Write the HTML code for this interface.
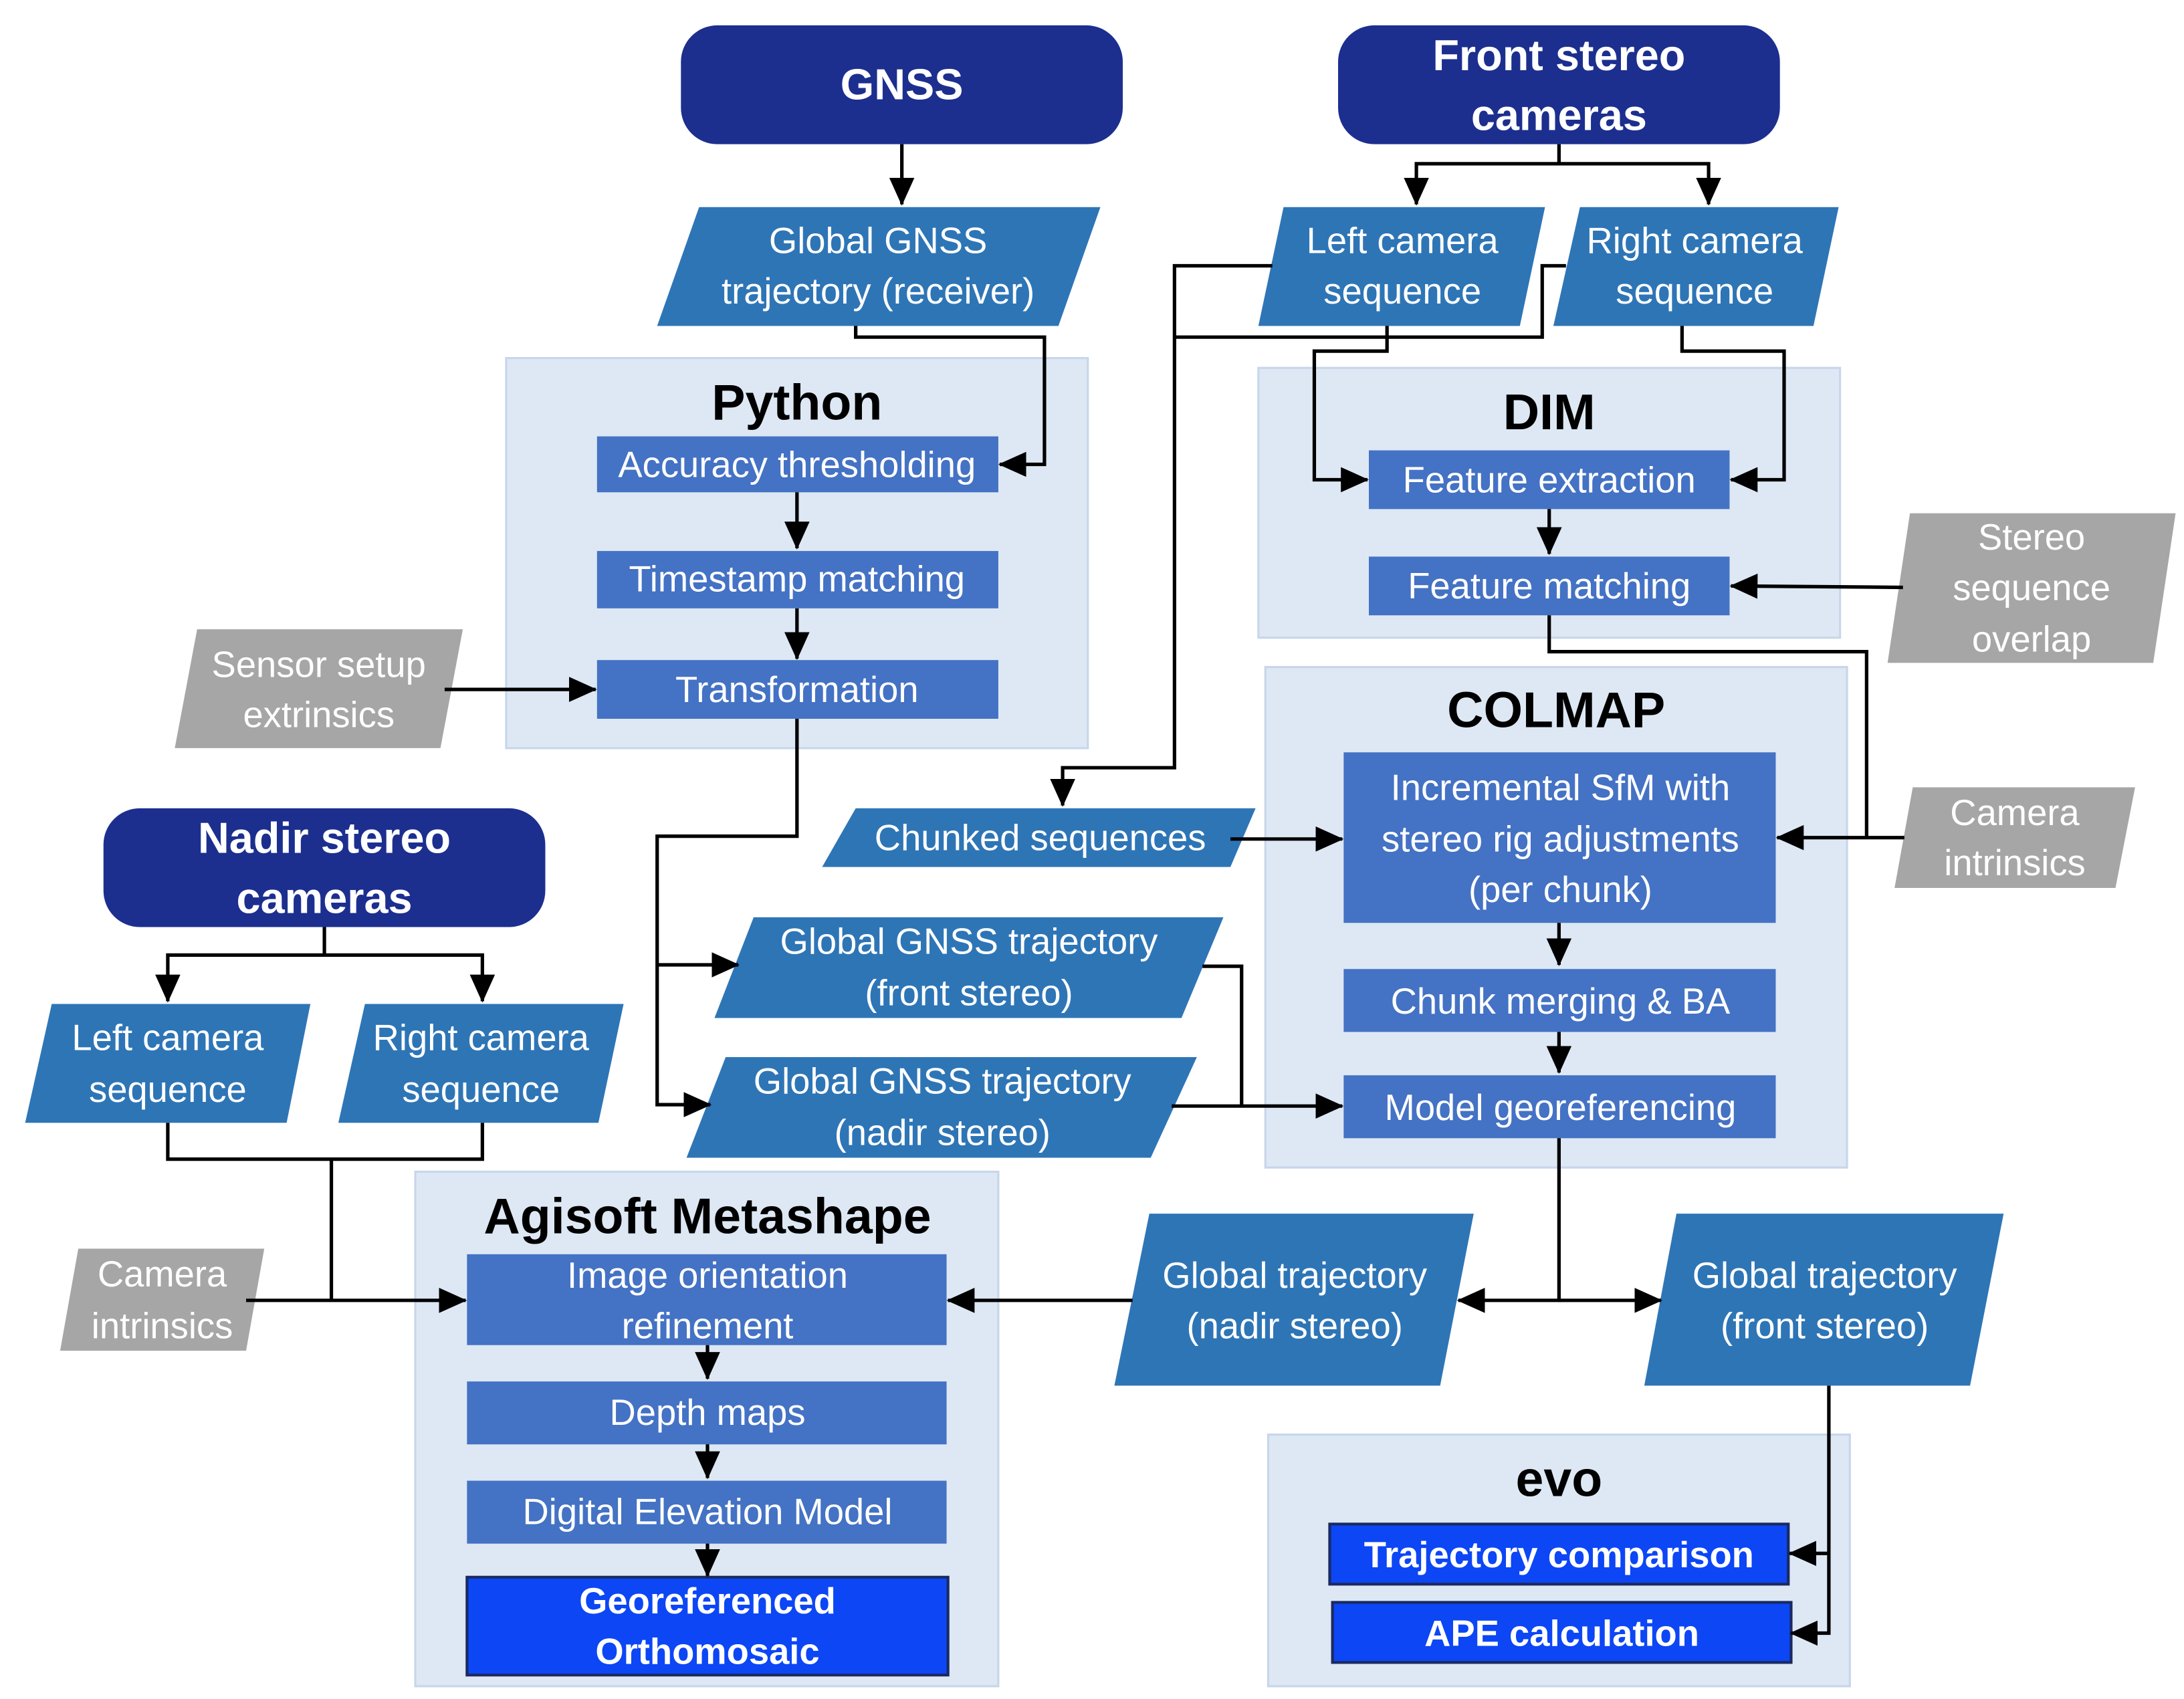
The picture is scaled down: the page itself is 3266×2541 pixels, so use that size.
<!DOCTYPE html>
<html><head><meta charset="utf-8"><style>html,body{margin:0;padding:0;background:#fff}svg{display:block}</style></head><body>
<svg xmlns="http://www.w3.org/2000/svg" width="3266" height="2541" viewBox="0 0 1562 1215" font-family="Liberation Sans, sans-serif">
<defs><marker id="a" markerWidth="10" markerHeight="10" refX="9" refY="5" orient="auto" markerUnits="userSpaceOnUse"><path d="M0,0 L10,5 L0,10 z" fill="#000"/></marker>
<marker id="b" markerWidth="20" markerHeight="18" refX="19" refY="9" orient="auto" markerUnits="userSpaceOnUse"><path d="M0,0 L20,9 L0,18 z" fill="#000"/></marker></defs>
<rect width="1562" height="1215" fill="#fff"/>
<g fill="#dde8f4" stroke="#c8d6ea" stroke-width="1.5">
<rect x="362" y="256" width="416" height="279"/>
<rect x="900" y="263" width="416" height="193"/>
<rect x="905" y="477" width="416" height="358"/>
<rect x="297" y="838" width="417" height="368"/>
<rect x="907" y="1026" width="416" height="180"/>
</g>
<g font-weight="bold" font-size="36" text-anchor="middle" fill="#000">
<text x="570" y="300">Python</text><text x="1108" y="307">DIM</text><text x="1113" y="520">COLMAP</text><text x="506" y="882">Agisoft Metashape</text><text x="1115" y="1070">evo</text></g>
<g fill="#1c2f8f">
<rect x="487" y="18" width="316" height="85" rx="26"/><rect x="957" y="18" width="316" height="85" rx="26"/><rect x="74" y="578" width="316" height="85" rx="26"/></g>
<g fill="#fff" font-weight="bold" font-size="31" text-anchor="middle">
<text x="645" y="71">GNSS</text><text x="1115" y="50">Front stereo</text><text x="1115" y="93">cameras</text><text x="232" y="610">Nadir stereo</text><text x="232" y="653">cameras</text></g>
<g fill="#2e75b6">
<polygon points="500,148 787,148 757,233 470,233"/>
<polygon points="918,148 1105,148 1087,233 900,233"/>
<polygon points="1130,148 1315,148 1297,233 1111,233"/>
<polygon points="612,578 898,578 880,620 588,620"/>
<polygon points="539,656 875,656 845,728 511,728"/>
<polygon points="519,756 856,756 823,828 491,828"/>
<polygon points="822,868 1054,868 1030,991 797,991"/>
<polygon points="1199,868 1433,868 1409,991 1176,991"/>
<polygon points="37,718 222,718 205,803 18,803"/>
<polygon points="261,718 446,718 428,803 242,803"/>
</g>
<g fill="#a6a6a6">
<polygon points="141,450 331,450 315,535 125,535"/>
<polygon points="1366,367 1556,367 1540,474 1350,474"/>
<polygon points="1368,563 1527,563 1513,635 1355,635"/>
<polygon points="56,893 189,893 176,966 43,966"/>
</g>
<g fill="#4472c4">
<rect x="427" y="312" width="287" height="40"/><rect x="427" y="394" width="287" height="41"/><rect x="427" y="472" width="287" height="42"/>
<rect x="979" y="322" width="258" height="42"/><rect x="979" y="398" width="258" height="42"/>
<rect x="961" y="538" width="309" height="122"/><rect x="961" y="693" width="309" height="45"/><rect x="961" y="769" width="309" height="45"/>
<rect x="334" y="897" width="343" height="65"/><rect x="334" y="988" width="343" height="45"/><rect x="334" y="1059" width="343" height="45"/>
</g>
<g fill="#0c46f5" stroke="#1a2a60" stroke-width="2">
<rect x="951" y="1090" width="328" height="43"/><rect x="953" y="1146" width="328" height="43"/><rect x="334" y="1128" width="344" height="70"/></g>
<g fill="#fff" font-size="26" text-anchor="middle">
<text x="628" y="181">Global GNSS</text><text x="628" y="217">trajectory (receiver)</text>
<text x="1003" y="181">Left camera</text><text x="1003" y="217">sequence</text>
<text x="1212" y="181">Right camera</text><text x="1212" y="217">sequence</text>
<text x="570" y="341">Accuracy thresholding</text><text x="570" y="423">Timestamp matching</text><text x="570" y="502">Transformation</text>
<text x="228" y="484">Sensor setup</text><text x="228" y="520">extrinsics</text>
<text x="1108" y="352">Feature extraction</text><text x="1108" y="428">Feature matching</text>
<text x="1453" y="393">Stereo</text><text x="1453" y="429">sequence</text><text x="1453" y="466">overlap</text>
<text x="1116" y="572">Incremental SfM with</text><text x="1116" y="609">stereo rig adjustments</text><text x="1116" y="645">(per chunk)</text>
<text x="744" y="608">Chunked sequences</text>
<text x="1441" y="590">Camera</text><text x="1441" y="626">intrinsics</text>
<text x="693" y="682">Global GNSS trajectory</text><text x="693" y="719">(front stereo)</text>
<text x="674" y="782">Global GNSS trajectory</text><text x="674" y="819">(nadir stereo)</text>
<text x="1116" y="725">Chunk merging &amp; BA</text><text x="1116" y="801">Model georeferencing</text>
<text x="926" y="921">Global trajectory</text><text x="926" y="957">(nadir stereo)</text>
<text x="1305" y="921">Global trajectory</text><text x="1305" y="957">(front stereo)</text>
<text x="120" y="751">Left camera</text><text x="120" y="788">sequence</text>
<text x="344" y="751">Right camera</text><text x="344" y="788">sequence</text>
<text x="116" y="920">Camera</text><text x="116" y="957">intrinsics</text>
<text x="506" y="921">Image orientation</text><text x="506" y="957">refinement</text>
<text x="506" y="1019">Depth maps</text><text x="506" y="1090">Digital Elevation Model</text>
<g font-weight="bold"><text x="1115" y="1121">Trajectory comparison</text><text x="1117" y="1177">APE calculation</text>
<text x="506" y="1154">Georeferenced</text><text x="506" y="1190">Orthomosaic</text></g>
</g>
<g fill="none" stroke="#000" stroke-width="2.5">
<path d="M645,103 V146" marker-end="url(#b)"/>
<path d="M1115,103 V117 H1013 V146" marker-end="url(#b)"/><path d="M1115,117 H1222 V146" marker-end="url(#b)"/>
<path d="M612,233 V241 H747 V332 H715" marker-end="url(#b)"/>
<path d="M570,352 V392" marker-end="url(#b)"/><path d="M570,435 V471" marker-end="url(#b)"/>
<path d="M318,493 H426" marker-end="url(#b)"/>
<path d="M570,514 V598 H470 V790 H508" marker-end="url(#b)"/><path d="M470,690 H528" marker-end="url(#b)"/>
<path d="M992,233 V251 H940 V343 H978" marker-end="url(#b)"/>
<path d="M1203,233 V251 H1276 V343 H1238" marker-end="url(#b)"/>
<path d="M1108,364 V396" marker-end="url(#b)"/>
<path d="M1361,420 L1238,419" marker-end="url(#b)"/>
<path d="M1108,440 V466 H1335 V599"/>
<path d="M910,190 H840 V549 H760 V576" marker-end="url(#b)"/>
<path d="M840,241 H1103 V190 H1120"/>
<path d="M880,600 H960" marker-end="url(#b)"/>
<path d="M1362,599 H1271" marker-end="url(#b)"/>
<path d="M1115,660 V690" marker-end="url(#b)"/><path d="M1115,738 V767" marker-end="url(#b)"/>
<path d="M860,691 H888 V791"/><path d="M838,791 H960" marker-end="url(#b)"/>
<path d="M1115,814 V930 H1043" marker-end="url(#b)"/><path d="M1115,930 H1188" marker-end="url(#b)"/>
<path d="M810,930 H678" marker-end="url(#b)"/>
<path d="M1308,991 V1168 H1281" marker-end="url(#b)"/><path d="M1308,1111 H1280" marker-end="url(#b)"/>
<path d="M232,663 V683 H120 V716" marker-end="url(#b)"/><path d="M232,683 H345 V716" marker-end="url(#b)"/>
<path d="M120,803 V829 H345 V803"/><path d="M237,829 V930"/>
<path d="M176,930 H333" marker-end="url(#b)"/>
<path d="M506,962 V986" marker-end="url(#b)"/><path d="M506,1033 V1057" marker-end="url(#b)"/><path d="M506,1104 V1127" marker-end="url(#b)"/>
</g>
</svg>
</body></html>
